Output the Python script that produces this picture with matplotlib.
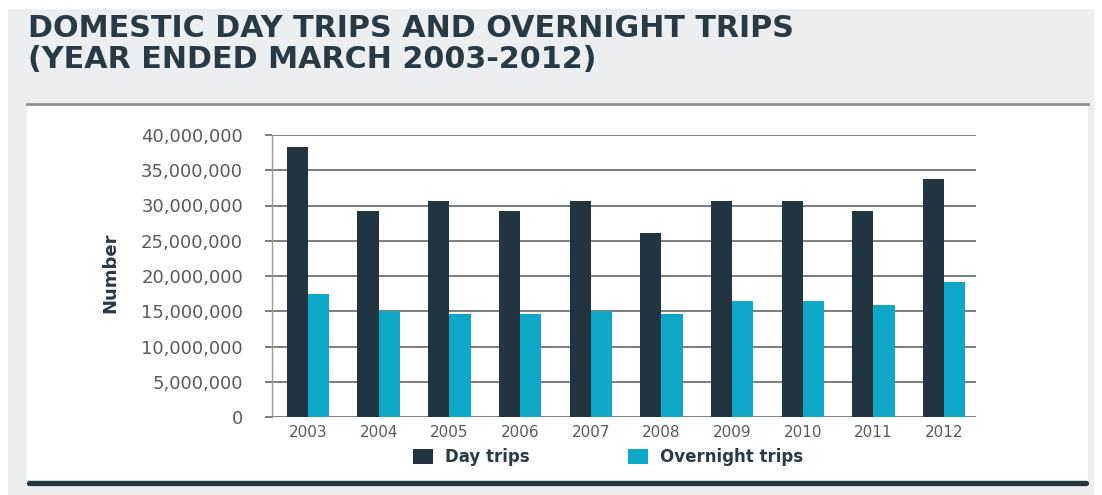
import matplotlib
matplotlib.use("Agg")
import matplotlib.pyplot as plt
from matplotlib.patches import Rectangle, Patch
from matplotlib.lines import Line2D
from matplotlib.ticker import FuncFormatter, MultipleLocator

# Domestic trips, year ended March
years = ["2003", "2004", "2005", "2006", "2007", "2008", "2009", "2010", "2011", "2012"]
day_trips = [38.3e6, 29.2e6, 30.7e6, 29.2e6, 30.7e6, 26.1e6, 30.7e6, 30.7e6, 29.2e6, 33.8e6]
overnight_trips = [17.4e6, 15.1e6, 14.6e6, 14.6e6, 15.1e6, 14.6e6, 16.5e6, 16.5e6, 15.9e6, 19.1e6]
series_names = ["Day trips", "Overnight trips"]

title_lines = ["DOMESTIC DAY TRIPS AND OVERNIGHT TRIPS", "(YEAR ENDED MARCH 2003-2012)"]
y_label = "Number"

DARK = "#22343f"
CYAN = "#10a8c8"
TEXT_DARK = "#2a3a45"
TICK_GREY = "#5a5a5a"
GRID = "#565b5f"

W, H = 1102, 495
fig = plt.figure(figsize=(W / 100, H / 100), dpi=100, facecolor="white")


def fx(x):
    return x / W


def fy(y):
    return 1 - y / H


def frame_rect(x0, y0, x1, y1, color, z):
    fig.patches.append(Rectangle((fx(x0), fy(y1)), fx(x1) - fx(x0), fy(y0) - fy(y1),
                                 transform=fig.transFigure, facecolor=color,
                                 edgecolor="none", zorder=z))


# page background and white card
frame_rect(8, 9, 1094, 495, "#eceef0", 0)
frame_rect(27, 105, 1088, 480, "white", 1)
fig.lines.append(Line2D([fx(27), fx(1088)], [fy(103.5)] * 2, transform=fig.transFigure,
                        color="#8c8f92", lw=1.9, zorder=2))
fig.lines.append(Line2D([fx(29), fx(1086)], [fy(482.5)] * 2, transform=fig.transFigure,
                        color="#243643", lw=3.8, solid_capstyle="round", zorder=2))

# title
fig.text(fx(28), fy(37), title_lines[0], fontsize=21.7, fontweight="bold",
         family="DejaVu Sans", color=TEXT_DARK, ha="left", va="baseline")
fig.text(fx(28), fy(68), title_lines[1], fontsize=21.7, fontweight="bold",
         family="DejaVu Sans", color=TEXT_DARK, ha="left", va="baseline")

# chart
ax = fig.add_axes([fx(272), fy(417), fx(976) - fx(272), fy(135) - fy(417)])
ax.set_facecolor("white")
ax.set_zorder(3)

x = list(range(len(years)))
bw = 0.30
ax.bar([i - bw / 2 for i in x], day_trips, width=bw, color=DARK, zorder=3)
ax.bar([i + bw / 2 for i in x], overnight_trips, width=bw, color=CYAN, zorder=3)

ax.set_xlim(-0.509, 9.45)
ax.set_ylim(0, 40e6)
ax.yaxis.set_major_locator(MultipleLocator(5e6))
ax.yaxis.set_major_formatter(FuncFormatter(lambda v, p: f"{v:,.0f}"))
ax.set_xticks(x)
ax.set_xticklabels(years)

ax.grid(axis="y", color=GRID, lw=1.1)
ax.set_axisbelow(True)
for s in ["top", "right", "bottom"]:
    ax.spines[s].set_visible(False)
ax.spines["left"].set_color("#9a9a9a")
ax.spines["left"].set_linewidth(1.0)

ax.tick_params(axis="y", length=5, width=1.1, color=GRID, pad=15.8,
               labelsize=13, labelcolor=TICK_GREY)
ax.tick_params(axis="x", length=0, pad=5.8, labelsize=11, labelcolor=TICK_GREY)

ax.set_ylabel(y_label, fontsize=13, fontweight="bold", color=TEXT_DARK,
              family="DejaVu Sans", va="center")
ax.yaxis.set_label_coords((110 - 272) / 704, (417 - 273) / 282)

# legend
handles = [Patch(facecolor=DARK, edgecolor="none"), Patch(facecolor=CYAN, edgecolor="none")]
leg = fig.legend(handles, series_names, loc="center", bbox_to_anchor=(fx(608), fy(457)),
                 ncol=2, frameon=False, handlelength=1.2, handleheight=1.0,
                 handletextpad=0.72, columnspacing=5.9,
                 prop={"family": "DejaVu Sans", "weight": "bold", "size": 12})
for t in leg.get_texts():
    t.set_color(TEXT_DARK)
leg.set_zorder(4)

fig.savefig("out.png", dpi=100)
